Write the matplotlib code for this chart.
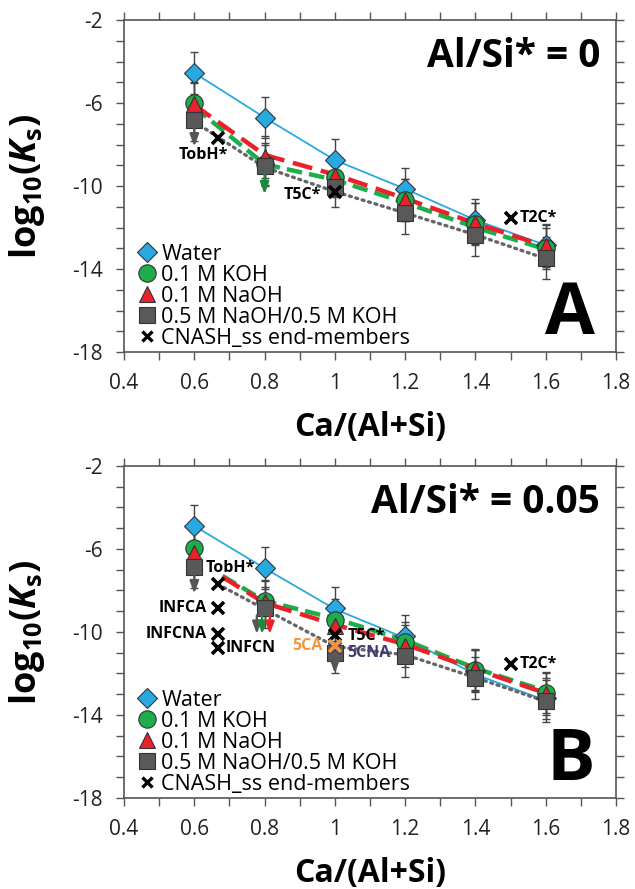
import matplotlib
matplotlib.use("Agg")
import matplotlib.pyplot as plt
from matplotlib.lines import Line2D
import numpy as np

plt.rcParams['font.family'] = ['Open Sans', 'DejaVu Sans']
plt.rcParams['axes.unicode_minus'] = False
plt.rcParams['mathtext.fontset'] = 'custom'
plt.rcParams['mathtext.rm'] = 'Open Sans'
plt.rcParams['mathtext.bf'] = 'Open Sans:bold'
plt.rcParams['mathtext.it'] = 'Open Sans:italic'
plt.rcParams['mathtext.bfit'] = 'Open Sans:italic:bold'

# Ca/(Al+Si) of the samples
x_ca = [0.6, 0.8, 1.0, 1.2, 1.4, 1.6]
err = [1.0, 1.0, 1.0, 1.0, 1.0, 1.0]

# panel A: Al/Si* = 0
a_water = [-4.55, -6.7, -8.75, -10.14, -11.64, -12.85]
a_koh = [-6.0, -8.95, -9.55, -10.67, -11.83, -13.0]
a_naoh = [-6.05, -8.59, -9.5, -10.67, -11.8, -12.9]
a_mix = [-6.82, -9.02, -10.03, -11.3, -12.36, -13.48]
# model curves A
a_water_fit = [-4.55, -6.7, -8.75, -10.14, -11.64, -12.85]
a_koh_fit = [-6.2, -8.95, -9.7, -10.8, -12.0, -13.05]
a_naoh_fit = [-6.1, -8.5, -9.45, -10.6, -11.8, -12.9]
a_mix_x = [0.6, 0.8, 1.0, 1.2, 1.4, 1.6]
a_mix_fit = [-6.9, -9.1, -10.27, -11.3, -12.35, -13.5]

# panel B: Al/Si* = 0.05
b_water = [-4.89, -6.93, -8.83, -10.19, -11.88, -13.2]
b_koh = [-5.94, -8.5, -9.42, -10.5, -11.85, -12.92]
b_naoh = [-6.18, -8.55, -9.71, -10.67, -11.8, -13.0]
b_mix = [-6.87, -8.83, -11.0, -11.16, -12.23, -13.33]
# model curves B
b_water_fit = [-4.89, -6.93, -8.9, -10.3, -12.05, -13.3]
b_koh_x = [0.68, 0.8, 1.0, 1.2, 1.4, 1.6]
b_koh_fit = [-7.3, -8.5, -9.35, -10.4, -11.75, -12.85]
b_naoh_x = [0.68, 0.8, 1.0, 1.2, 1.4, 1.6]
b_naoh_fit = [-7.35, -8.6, -9.65, -10.6, -11.8, -12.95]
b_mix_x = [0.667, 1.0, 1.2, 1.4, 1.6]
b_mix_fit = [-7.7, -10.7, -11.1, -12.2, -13.35]

# upper-limit arrows: x, start, end, colour key
a_arrows = [(0.6, -7.2, -8.1, 'mix'), (0.8, -9.4, -10.4, 'koh')]
b_arrows = [(0.6, -7.25, -8.15, 'mix'), (0.778, -9.2, -10.1, 'mix'),
            (0.793, -9.2, -10.1, 'koh'), (0.815, -9.2, -10.1, 'naoh'),
            (1.0, -11.35, -12.0, 'mix')]

# CNASH_ss end-members
a_end_names = ['TobH*', 'T5C*', 'T2C*']
a_end_x = [0.667, 1.0, 1.5]
a_end_y = [-7.7, -10.27, -11.56]
b_end_names = ['TobH*', 'INFCA', 'INFCNA', 'INFCN', 'T5C*', '5CNA', '5CA', 'T2C*']
b_end_x = [0.667, 0.667, 0.667, 0.667, 1.0, 1.0, 1.0, 1.5]
b_end_y = [-7.67, -8.84, -10.1, -10.76, -10.15, -10.75, -10.67, -11.53]

cols = {'water': '#29a9e1', 'koh': '#1ead4b', 'naoh': '#e8212b', 'mix': '#595959'}
arrow_cols = {'mix': '#555555', 'koh': '#1a8a3c', 'naoh': '#e8212b'}
end_cols = {'5CA': '#f7953c', '5CNA': '#463a6e'}

# label placement: name -> (x, y, ha)
a_lab_pos = {'TobH*': (0.625, -8.5, 'center'), 'T5C*': (0.96, -10.43, 'right'),
             'T2C*': (1.525, -11.56, 'left')}
b_lab_pos = {'TobH*': (0.633, -6.9, 'left'), 'INFCA': (0.636, -8.84, 'right'),
             'INFCNA': (0.636, -10.12, 'right'), 'INFCN': (0.69, -10.76, 'left'),
             'T5C*': (1.035, -10.19, 'left'), '5CA': (0.966, -10.7, 'right'),
             '5CNA': (1.035, -11.0, 'left'), 'T2C*': (1.525, -11.53, 'left')}


def draw_panel(ax, water, koh, naoh, mix, fits, arrows, ends, lab_pos, title, letter):
    (wx, wy), (kx, ky), (nx, ny), (mx, my) = fits
    ax.plot(wx, wy, color=cols['water'], lw=1.3, zorder=2)
    ax.plot(kx, ky, color=cols['koh'], lw=3.2, dashes=(3.5, 1.6), zorder=2)
    ax.plot(nx, ny, color=cols['naoh'], lw=3.2, dashes=(4.5, 2.0), zorder=2.1)
    ax.plot(mx, my, color='#666666', lw=2.4, dashes=(0.6, 1.4),
            dash_capstyle='round', zorder=2)

    series = [(water, 'water', 'D', 10.5), (koh, 'koh', 'o', 12.5),
              (naoh, 'naoh', '^', 11.5), (mix, 'mix', 's', 11)]
    for i, (vals, key, mk, ms) in enumerate(series):
        ax.errorbar(x_ca, vals, yerr=err, fmt='none', ecolor='#444444',
                    elinewidth=1, capsize=3, capthick=1, zorder=2.5)
        ax.plot(x_ca, vals, ls='none', marker=mk, ms=ms, mfc=cols[key],
                mec='#333333', mew=0.8, zorder=3 + i)

    for x, y0, y1, key in arrows:
        ax.annotate('', xy=(x, y1), xytext=(x, y0),
                    arrowprops=dict(arrowstyle='-|>,head_length=0.6,head_width=0.22',
                                    color=arrow_cols[key], lw=1.7,
                                    mutation_scale=12, shrinkA=0, shrinkB=0),
                    zorder=7)

    names, ex, ey = ends
    for n, x, y in zip(names, ex, ey):
        c = end_cols.get(n, 'black')
        ax.plot(x, y, ls='none', marker='x', ms=8, mew=2.6, color=c, zorder=8)
        tx, ty, ha = lab_pos[n]
        ax.text(tx, ty, n, ha=ha, va='center', fontsize=11.5, fontweight='bold',
                color=c, zorder=9)

    ax.text(0.9675, 0.858, title, transform=ax.transAxes, ha='right',
            va='baseline', fontsize=28, fontweight='bold')
    ax.text(0.957, 0.053, letter, transform=ax.transAxes, ha='right',
            va='baseline', fontsize=52, fontweight='bold')

    ax.set_xlim(0.4, 1.8)
    ax.set_ylim(-18, -2)
    ax.set_xticks(np.arange(0.4, 1.81, 0.2))
    ax.set_xticklabels(['0.4', '0.6', '0.8', '1', '1.2', '1.4', '1.6', '1.8'])
    ax.set_xticks(np.arange(0.4, 1.81, 0.1), minor=True)
    ax.set_yticks([-2, -6, -10, -14, -18])
    ax.set_yticks(np.arange(-18, -1.5, 1), minor=True)
    ax.tick_params(which='both', direction='out', top=True, right=True,
                   length=6, width=1, color='#555555', labelsize=15,
                   labelcolor='#222222', pad=9)
    for s in ax.spines.values():
        s.set_color('#555555')
        s.set_linewidth(1.2)

    ax.set_xlabel('Ca/(Al+Si)', fontsize=23, fontweight='bold', va='center')
    ax.xaxis.set_label_coords(0.5, -0.226)
    ax.set_ylabel(r'$\mathbf{log_{10}(}\mathbfit{K}_{\mathbf{s}}\mathbf{)}$',
                  fontsize=26, va='center', ha='center')
    ax.yaxis.set_label_coords(-0.197, 0.5)

    handles = [
        Line2D([], [], ls='none', marker='D', ms=10.5, mfc=cols['water'], mec='#333333', mew=0.8),
        Line2D([], [], ls='none', marker='o', ms=12.5, mfc=cols['koh'], mec='#333333', mew=0.8),
        Line2D([], [], ls='none', marker='^', ms=11.5, mfc=cols['naoh'], mec='#333333', mew=0.8),
        Line2D([], [], ls='none', marker='s', ms=11, mfc=cols['mix'], mec='#333333', mew=0.8),
        Line2D([], [], ls='none', marker='x', ms=7, mew=2.4, color='black'),
    ]
    labels = ['Water', '0.1 M KOH', '0.1 M NaOH', '0.5 M NaOH/0.5 M KOH',
              'CNASH_ss end-members']
    ax.legend(handles, labels, loc='lower left', bbox_to_anchor=(0.03, 0.01),
              frameon=False, fontsize=15.5, handlelength=0.8, handletextpad=0.25,
              labelspacing=0.0, borderpad=0, borderaxespad=0)


fig = plt.figure(figsize=(6.35, 8.89), dpi=100)
ax_a = fig.add_axes([0.1953, 0.604, 0.7748, 0.3735])
ax_b = fig.add_axes([0.1953, 0.1024, 0.7748, 0.3735])

draw_panel(ax_a, a_water, a_koh, a_naoh, a_mix,
           [(x_ca, a_water_fit), (x_ca, a_koh_fit), (x_ca, a_naoh_fit), (a_mix_x, a_mix_fit)],
           a_arrows, (a_end_names, a_end_x, a_end_y), a_lab_pos,
           'Al/Si* = 0', 'A')
draw_panel(ax_b, b_water, b_koh, b_naoh, b_mix,
           [(x_ca, b_water_fit), (b_koh_x, b_koh_fit), (b_naoh_x, b_naoh_fit), (b_mix_x, b_mix_fit)],
           b_arrows, (b_end_names, b_end_x, b_end_y), b_lab_pos,
           'Al/Si* = 0.05', 'B')

fig.savefig('out.png', dpi=100)
